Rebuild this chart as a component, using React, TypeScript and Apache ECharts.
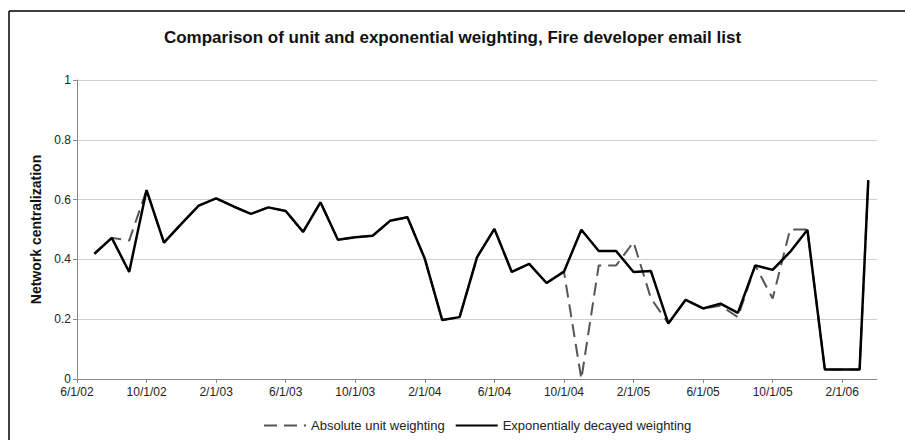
import React, { useEffect, useRef } from "react";
import * as echarts from "echarts";

const titleText = "Comparison of unit and exponential weighting, Fire developer email list";
const yAxisName = "Network centralization";
const seriesNames = ["Absolute unit weighting", "Exponentially decayed weighting"];

const dates = [
  "2002-07-01", "2002-08-01", "2002-09-01", "2002-10-01", "2002-11-01", "2002-12-01",
  "2003-01-01", "2003-02-01", "2003-03-01", "2003-04-01", "2003-05-01", "2003-06-01",
  "2003-07-01", "2003-08-01", "2003-09-01", "2003-10-01", "2003-11-01", "2003-12-01",
  "2004-01-01", "2004-02-01", "2004-03-01", "2004-04-01", "2004-05-01", "2004-06-01",
  "2004-07-01", "2004-08-01", "2004-09-01", "2004-10-01", "2004-11-01", "2004-12-01",
  "2005-01-01", "2005-02-01", "2005-03-01", "2005-04-01", "2005-05-01", "2005-06-01",
  "2005-07-01", "2005-08-01", "2005-09-01", "2005-10-01", "2005-11-01", "2005-12-01",
  "2006-01-01", "2006-02-01", "2006-03-01", "2006-03-16",
];

const exponentialWeighting = [
  0.419, 0.472, 0.358, 0.632, 0.456, 0.519,
  0.58, 0.604, 0.577, 0.552, 0.574, 0.562,
  0.492, 0.591, 0.466, 0.474, 0.479, 0.529,
  0.541, 0.402, 0.197, 0.207, 0.407, 0.502,
  0.358, 0.385, 0.321, 0.359, 0.499, 0.428,
  0.428, 0.358, 0.361, 0.186, 0.265, 0.236,
  0.252, 0.221, 0.38, 0.365, 0.425, 0.499,
  0.032, 0.032, 0.032, 0.665,
];

const absoluteWeighting = [
  0.419, 0.472, 0.463, 0.632, 0.456, 0.519,
  0.58, 0.604, 0.577, 0.552, 0.574, 0.562,
  0.492, 0.591, 0.466, 0.474, 0.479, 0.529,
  0.541, 0.402, 0.197, 0.207, 0.407, 0.502,
  0.358, 0.385, 0.321, 0.359, 0.0, 0.38,
  0.38, 0.458, 0.27, 0.186, 0.265, 0.236,
  0.245, 0.207, 0.38, 0.269, 0.5, 0.5,
  0.032, 0.032, 0.032, 0.665,
];

// x axis runs in months from 6/1/02 to 4/1/06; labelled every 4 months
const axisStart = { year: 2002, month: 6 };
const axisMonths = 46;
const tickStep = 4;
const tickValues = [0, 4, 8, 12, 16, 20, 24, 28, 32, 36, 40, 44];

function toMonthIndex(d: string): number {
  const [y, m, day] = d.split("-").map(Number);
  return (y - axisStart.year) * 12 + (m - axisStart.month) + (day - 1) / 30;
}

function monthLabel(v: number): string {
  if (Math.abs(v % tickStep) > 1e-6) return "";
  const total = axisStart.month - 1 + Math.round(v);
  const year = axisStart.year + Math.floor(total / 12);
  const month = (total % 12) + 1;
  return `${month}/1/${String(year % 100).padStart(2, "0")}`;
}

const FONT = "'Liberation Sans', Arial, sans-serif";

export default function App() {
  const ref = useRef<HTMLDivElement>(null);

  useEffect(() => {
    document.body.style.margin = "0";
    if (!ref.current) return;
    const chart = echarts.init(ref.current, null, { renderer: "svg" });
    const xs = dates.map(toMonthIndex);
    chart.setOption({
      animation: false,
      backgroundColor: "#ffffff",
      textStyle: { fontFamily: FONT },
      title: {
        text: titleText,
        left: "center",
        top: 24,
        textStyle: { fontFamily: FONT, fontSize: 17, fontWeight: "bold", color: "#111" },
      },
      grid: { left: 77, right: 28, top: 80, bottom: 61, containLabel: false },
      legend: {
        left: 258,
        top: 414,
        itemWidth: 42,
        itemHeight: 12,
        itemGap: 10,
        itemStyle: { opacity: 0 },
        textStyle: { fontFamily: FONT, fontSize: 13, color: "#222" },
        data: seriesNames,
      },
      xAxis: {
        type: "value",
        min: 0,
        max: axisMonths,
        interval: tickStep,
        axisLine: { show: true, lineStyle: { color: "#888", width: 1 } },
        axisTick: { show: true, length: 4, lineStyle: { color: "#888" }, customValues: tickValues },
        axisLabel: {
          color: "#222",
          fontSize: 12,
          fontFamily: FONT,
          margin: 7,
          formatter: (v: number) => monthLabel(v),
          customValues: tickValues,
        },
        splitLine: { show: false },
      },
      yAxis: {
        type: "value",
        min: 0,
        max: 1,
        interval: 0.2,
        name: yAxisName,
        nameLocation: "middle",
        nameGap: 34,
        nameTextStyle: { fontFamily: FONT, fontSize: 14, fontWeight: "bold", color: "#111" },
        axisLine: { show: true, lineStyle: { color: "#888", width: 1 } },
        axisTick: { show: true, length: 4, lineStyle: { color: "#888" } },
        axisLabel: { color: "#222", fontSize: 12, fontFamily: FONT, margin: 6 },
        splitLine: { show: true, lineStyle: { color: "#cfcfcf", width: 1 } },
      },
      graphic: [
        { type: "line", shape: { x1: 9, y1: 11, x2: 905, y2: 11 }, style: { stroke: "#000", lineWidth: 1.5 } },
        { type: "line", shape: { x1: 9, y1: 11, x2: 9, y2: 440 }, style: { stroke: "#000", lineWidth: 1.5 } },
      ],
      series: [
        {
          name: seriesNames[0],
          type: "line",
          symbol: "none",
          data: xs.map((x, i) => [x, absoluteWeighting[i]]),
          lineStyle: { color: "#555", width: 2, type: [13, 7] },
          itemStyle: { color: "#555" },
          z: 2,
        },
        {
          name: seriesNames[1],
          type: "line",
          symbol: "none",
          data: xs.map((x, i) => [x, exponentialWeighting[i]]),
          lineStyle: { color: "#000", width: 2.5 },
          itemStyle: { color: "#000" },
          z: 3,
        },
      ],
    });
    return () => chart.dispose();
  }, []);

  return <div ref={ref} style={{ width: 905, height: 440 }} />;
}
